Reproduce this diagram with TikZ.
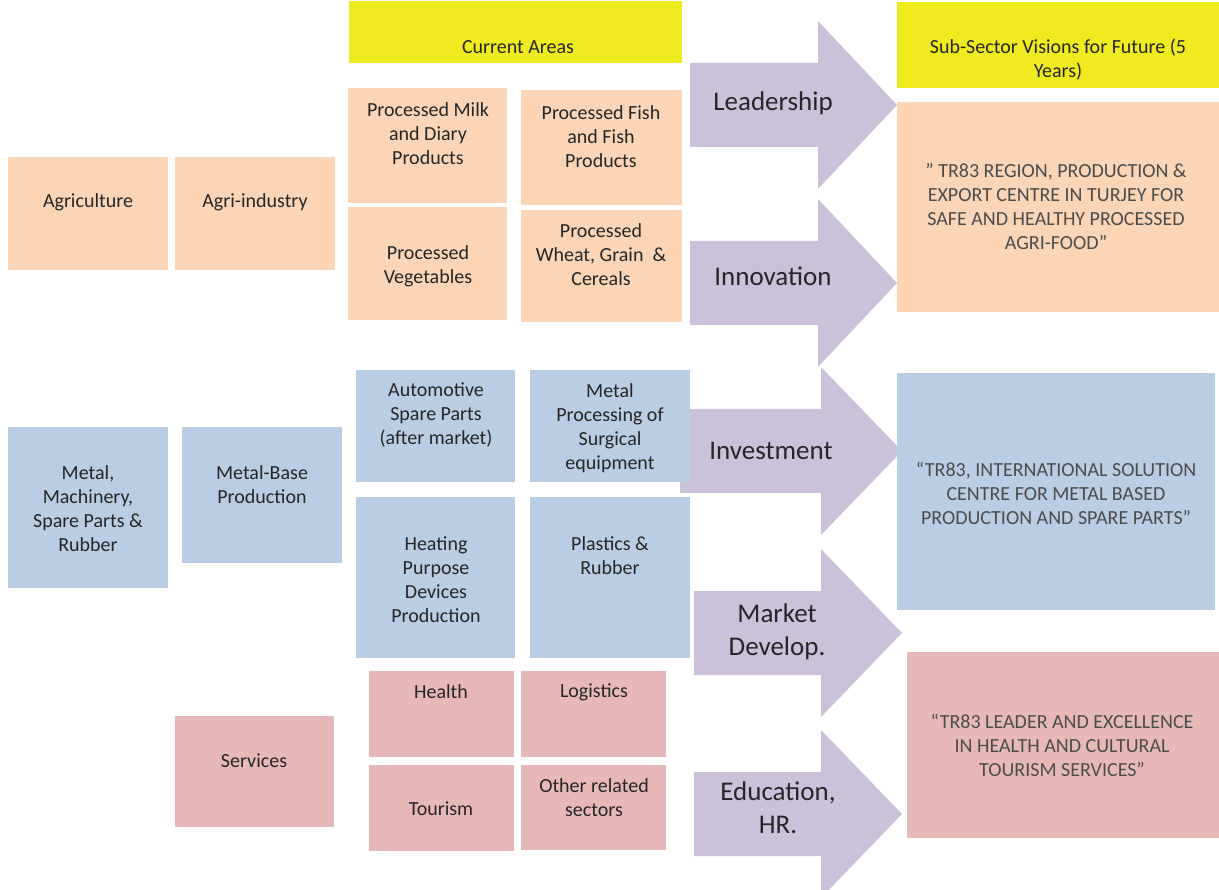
\documentclass[tikz,border=0pt]{standalone}
\usepackage{fontspec}
\setmainfont{Carlito}
\usetikzlibrary{fit}
\definecolor{peach}{HTML}{FBD5B5}
\definecolor{skyblue}{HTML}{B9CDE5}
\definecolor{rosy}{HTML}{E6B9B8}
\definecolor{lilac}{HTML}{CCC1DA}
\definecolor{lemon}{HTML}{F0EB1E}
\begin{document}
\begin{tikzpicture}[
        x=1pt, y=-1pt,
        every node/.style={font=\fontsize{20}{24}\selectfont, align=center, text=black!85},
        cell/.style={fill=#1, inner sep=0pt, outer sep=0pt},
        arrowtext/.style={font=\fontsize{27}{33}\selectfont},
        vision/.style={text=black!70},
    ]
    \useasboundingbox (0,0) rectangle (1219,890);
    % big arrows
    \foreach \c/\xa/\xb/\xt in {105/690/818/897, 283/690/818/897, 451/680/821/902, 633/694/821/902, 814/694/821/902}
        \fill[lilac] (\xa,\c-42) -- (\xb,\c-42) -- (\xb,\c-84) -- (\xt,\c)
            -- (\xb,\c+84) -- (\xb,\c+42) -- (\xa,\c+42) -- cycle;
    \node[arrowtext] (lead) at (773,103) {Leadership};
    \node[arrowtext] (innov) at (773,276) {Innovation};
    \node[arrowtext] (invest) at (771,451) {Investment};
    \node[arrowtext] (market) at (777,632) {Market\\Develop.};
    \node[arrowtext] (edu) at (778,808) {Education,\\HR.};
    % headers
    \node[cell=lemon, fit={(349,1) (682,63)}] (current) {};
    \node (currenttxt) at (518,47) {Current Areas};
    \node[cell=lemon, fit={(897,2) (1219,88)}] (future) {};
    \node (futuretxt) at (1058,60) {Sub-Sector Visions for Future (5\\Years)};
    % agri-food
    \node[cell=peach, fit={(8,157) (168,270)}] (agri) {};
    \node (agritxt) at (88,202) {Agriculture};
    \node[cell=peach, fit={(175,157) (335,270)}] (agrind) {};
    \node (agrindtxt) at (255,202) {Agri-industry};
    \node[cell=peach, fit={(348,88) (507,203)}] (milk) {};
    \node (milktxt) at (428,134) {Processed Milk\\and Diary\\Products};
    \node[cell=peach, fit={(521,90) (682,205)}] (fish) {};
    \node (fishtxt) at (601,137) {Processed Fish\\and Fish\\Products};
    \node[cell=peach, fit={(348,207) (507,320)}] (veg) {};
    \node (vegtxt) at (428,266) {Processed\\Vegetables};
    \node[cell=peach, fit={(521,210) (682,322)}] (wheat) {};
    \node (wheattxt) at (601,255) {Processed\\Wheat, Grain~~\&\\Cereals};
    \node[cell=peach, fit={(897,102) (1219,312)}] (agrivis) {};
    \node[vision] (agrivistxt) at (1056,207) {{\textquotedblright} TR83 REGION, PRODUCTION \&\\EXPORT CENTRE IN TURJEY FOR\\SAFE AND HEALTHY PROCESSED\\AGRI-FOOD{\textquotedblright}};
    % metal
    \node[cell=skyblue, fit={(8,427) (168,588)}] (metal) {};
    \node (metaltxt) at (88,509) {Metal,\\Machinery,\\Spare Parts \&\\Rubber};
    \node[cell=skyblue, fit={(182,427) (342,563)}] (metalbase) {};
    \node (metalbasetxt) at (262,485) {Metal-Base\\Production};
    \node[cell=skyblue, fit={(356,370) (515,482)}] (auto) {};
    \node (autotxt) at (436,415) {Automotive\\Spare Parts\\(after market)};
    \node[cell=skyblue, fit={(530,370) (690,482)}] (surg) {};
    \node (surgtxt) at (610,428) {Metal\\Processing of\\Surgical\\equipment};
    \node[cell=skyblue, fit={(356,497) (515,658)}] (heat) {};
    \node (heattxt) at (436,580) {Heating\\Purpose\\Devices\\Production};
    \node[cell=skyblue, fit={(530,497) (690,658)}] (plast) {};
    \node (plasttxt) at (610,556) {Plastics \&\\Rubber};
    \node[cell=skyblue, fit={(897,373) (1215,610)}] (metalvis) {};
    \node[vision] (metalvistxt) at (1056,493) {{\textquotedblleft}TR83, INTERNATIONAL SOLUTION\\CENTRE FOR METAL BASED\\PRODUCTION AND SPARE PARTS{\textquotedblright}};
    % services
    \node[cell=rosy, fit={(175,716) (334,827)}] (serv) {};
    \node (servtxt) at (254,761) {Services};
    \node[cell=rosy, fit={(369,671) (514,757)}] (health) {};
    \node (healthtxt) at (441,692) {Health};
    \node[cell=rosy, fit={(521,671) (666,757)}] (logi) {};
    \node (logitxt) at (594,692) {Logistics};
    \node[cell=rosy, fit={(369,765) (514,851)}] (tour) {};
    \node (tourtxt) at (441,809) {Tourism};
    \node[cell=rosy, fit={(521,765) (666,850)}] (other) {};
    \node (othertxt) at (594,798) {Other related\\sectors};
    \node[cell=rosy, fit={(907,652) (1219,838)}] (servvis) {};
    \node[vision] (servvistxt) at (1062,745) {{\textquotedblleft}TR83 LEADER AND EXCELLENCE\\IN HEALTH AND CULTURAL\\TOURISM SERVICES{\textquotedblright}};
\end{tikzpicture}
\end{document}
